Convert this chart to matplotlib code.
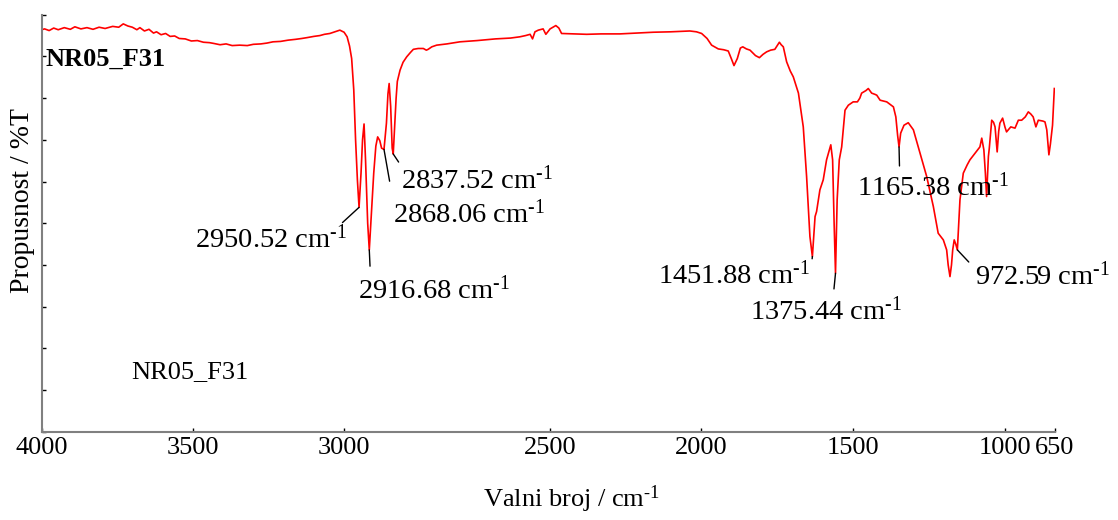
import matplotlib
matplotlib.use("Agg")
import matplotlib.pyplot as plt

plt.rcParams['font.family'] = ['Liberation Serif', 'DejaVu Serif']
plt.rcParams['mathtext.fontset'] = 'custom'
plt.rcParams['mathtext.rm'] = 'Liberation Serif'
plt.rcParams['mathtext.it'] = 'Liberation Serif:italic'

# spectrum (wavenumber / cm-1, transmittance / %)
wavenumber = [
    4000, 3990, 3975, 3960, 3945, 3925, 3905, 3890, 3870, 3850, 3830, 3810, 3790,
    3765, 3745, 3730, 3715, 3700, 3685, 3675, 3660, 3645, 3630, 3620, 3605, 3590,
    3575, 3560, 3545, 3525, 3505, 3485, 3465, 3445, 3430, 3410, 3390, 3370, 3345,
    3320, 3300, 3275, 3255, 3235, 3210, 3185, 3160, 3140, 3123, 3100, 3080, 3065,
    3047, 3030, 3014, 3000, 2990, 2982, 2975, 2968, 2962, 2956, 2950.52, 2944,
    2939, 2934, 2929, 2922, 2916.68, 2910, 2902, 2895, 2889, 2882, 2876, 2868.06,
    2860, 2855, 2851, 2846, 2841, 2837.52, 2833, 2828, 2824, 2815, 2805, 2793,
    2780, 2771, 2755, 2738, 2728, 2722, 2710, 2694, 2660, 2617, 2560, 2500, 2450,
    2419, 2400, 2385, 2377, 2369, 2358, 2342, 2333, 2319, 2300, 2290, 2281, 2240,
    2198, 2150, 2088, 2030, 1978, 1920, 1857, 1835, 1818, 1800, 1785, 1763, 1745,
    1730, 1720, 1711, 1700, 1690, 1682, 1670, 1658, 1640, 1627, 1615, 1603, 1590,
    1576, 1561, 1555, 1548, 1537, 1525, 1515, 1498, 1482, 1471, 1460, 1451.88,
    1443, 1438, 1427, 1416, 1405, 1391, 1385, 1380, 1375.44, 1370, 1363, 1355,
    1344, 1333, 1317, 1303, 1295, 1289, 1275, 1267, 1256, 1245, 1239, 1228, 1206,
    1195, 1184, 1176, 1170, 1165.38, 1160, 1149, 1135, 1118, 1096, 1074, 1052,
    1036, 1019, 1008, 1003, 997, 992, 988, 983, 978, 972.59, 964, 953, 940, 931,
    914, 898, 892, 885, 880, 876, 870, 867, 859, 853, 848, 841, 836, 832, 823,
    815, 810, 796, 782, 771, 760, 748, 738, 730, 722, 713, 705, 690, 683, 677,
    670, 665, 661, 658, 655, 652,
]
transmittance = [
    96.4, 96.6, 96.2, 96.8, 96.4, 96.9, 96.5, 97.1, 96.6, 96.9, 96.5, 97.0, 96.7,
    97.2, 97.0, 97.8, 97.3, 97.0, 96.4, 96.9, 96.1, 96.5, 95.6, 95.9, 95.2, 95.5,
    94.8, 94.9, 94.3, 94.2, 93.7, 93.8, 93.4, 93.3, 93.1, 92.8, 93.0, 92.6, 92.7,
    92.6, 92.9, 93.0, 93.2, 93.5, 93.6, 93.9, 94.1, 94.3, 94.5, 94.8, 95.0, 95.3,
    95.5, 95.9, 96.3, 95.8, 94.7, 92.5, 89.5, 82.0, 70.0, 60.4, 53.8, 62.0,
    70.0, 73.8, 65.0, 50.0, 43.6, 52.0, 62.0, 68.5, 70.7, 69.8, 68.0, 67.7,
    74.0, 81.0, 83.5, 78.0, 68.0, 66.6, 73.0, 80.0, 84.0, 86.7, 88.6, 89.9,
    91.0, 91.7, 91.9, 91.9, 91.5, 91.7, 92.3, 92.7, 93.0, 93.5, 93.8, 94.2, 94.4,
    94.7, 95.0, 95.3, 94.2, 95.9, 96.3, 96.6, 95.3, 96.6, 97.4, 96.8, 95.5, 95.4,
    95.3, 95.4, 95.4, 95.6, 95.8, 95.9, 96.1, 95.9, 95.5, 94.3, 92.7, 91.8, 91.6,
    91.3, 89.5, 87.8, 89.5, 92.0, 92.3, 91.8, 91.5, 90.2, 89.7, 90.5, 91.1, 91.5,
    91.7, 93.4, 92.8, 92.3, 88.7, 86.5, 85.1, 81.2, 73.1, 61.2, 46.8, 42.0,
    51.6, 52.8, 58.0, 60.4, 65.2, 68.8, 65.2, 50.0, 38.0, 55.6, 65.2, 68.3,
    77.1, 78.3, 79.1, 79.1, 80.0, 81.2, 81.8, 82.3, 81.2, 80.9, 80.7, 79.5, 79.1,
    78.5, 77.9, 75.5, 71.0, 68.3, 71.6, 73.5, 74.1, 72.4, 66.8, 61.2, 54.0,
    47.6, 46.0, 43.6, 40.0, 37.2, 40.0, 43.6, 46.0, 45.0, 43.6, 55.6, 62.0, 64.0, 65.2,
    66.8, 68.3, 70.4, 67.6, 62.0, 56.4, 66.0, 68.0, 74.7, 74.2, 73.1, 67.1, 72.0, 74.0, 75.2,
    73.0, 71.9, 73.1, 72.8, 74.7, 74.7, 75.5, 76.7, 76.2, 75.5, 73.1, 74.7, 74.5, 74.3, 72.4,
    66.4, 69.0, 71.6, 73.5, 78.0, 82.3,
]

# labelled peaks
peak_wn = [2950.52, 2916.68, 2868.06, 2837.52, 1451.88, 1375.44, 1165.38, 972.59]
peak_t = [53.8, 43.6, 67.7, 66.6, 42.0, 38.0, 68.3, 43.6]

# x tick labels as they are placed in the picture
xtick_pos = [4000, 3500, 3000, 2319, 1819, 1319, 816, 650]
xtick_lab = ['4000', '3500', '3000', '2500', '2000', '1500', '1000', '650']

fig = plt.figure(figsize=(11.18, 5.2), dpi=100)
ax = fig.add_axes([0.0372, 0.1698, 0.9064, 0.8019])

ax.plot(wavenumber, transmittance, color='red', lw=1.2)
ax.set_xlim(4000, 650)
ax.set_ylim(0, 100)

ax.set_xticks(xtick_pos)
ax.set_xticklabels(xtick_lab)
ax.set_yticks(range(0, 101, 10))
ax.set_yticklabels([])
ax.tick_params(axis='both', direction='in', length=3, width=1, color='black',
               labelsize=19, pad=4)
for s in ['top', 'right']:
    ax.spines[s].set_visible(False)
for s in ['left', 'bottom']:
    ax.spines[s].set_color('#808080')
    ax.spines[s].set_linewidth(1.5)

unit = r'cm$^{\text{-1}}$'

# (offset px, ha, relpos, shrinkA)
ann_style = [
    ((-12, -18), 'right', (0.95, 1.0), 0),
    ((-11, -26), 'left', (0.08, 1.0), 5),
    ((9, -51), 'left', (0.0, 1.0), 12),
    ((8, -12), 'left', (0.0, 1.0), 1),
    ((-2, -5), 'right', (1.0, 0.55), 0),
    ((-86, -24), 'left', (0.55, 1.0), 4),
    ((-42, -26), 'left', (0.28, 1.0), 3),
    ((18, -12), 'left', (0.0, 0.75), 4),
]
for w, t, (off, ha, rp, sh) in zip(peak_wn, peak_t, ann_style):
    ax.annotate(f'{w:.2f} ' + unit, xy=(w, t), xytext=off,
                textcoords='offset pixels', ha=ha, va='top', fontsize=20.5,
                arrowprops=dict(arrowstyle='-', color='black', lw=1,
                                relpos=rp, shrinkA=sh, shrinkB=0))

ax.text(0.0034, 0.877, 'NR05_F31', transform=ax.transAxes, fontsize=19,
        fontweight='bold', ha='left', va='baseline')
ax.text(0.088, 0.1288, 'NR05_F31', transform=ax.transAxes, fontsize=19,
        ha='left', va='baseline')

fig.text(0.5116, 0.025, 'Valni broj / ' + unit, fontsize=19, ha='center',
         va='baseline')
fig.text(0.0197, 0.615, 'Propusnost / %T', fontsize=20, rotation=90,
         ha='center', va='center')

fig.savefig('out.png', dpi=100)
